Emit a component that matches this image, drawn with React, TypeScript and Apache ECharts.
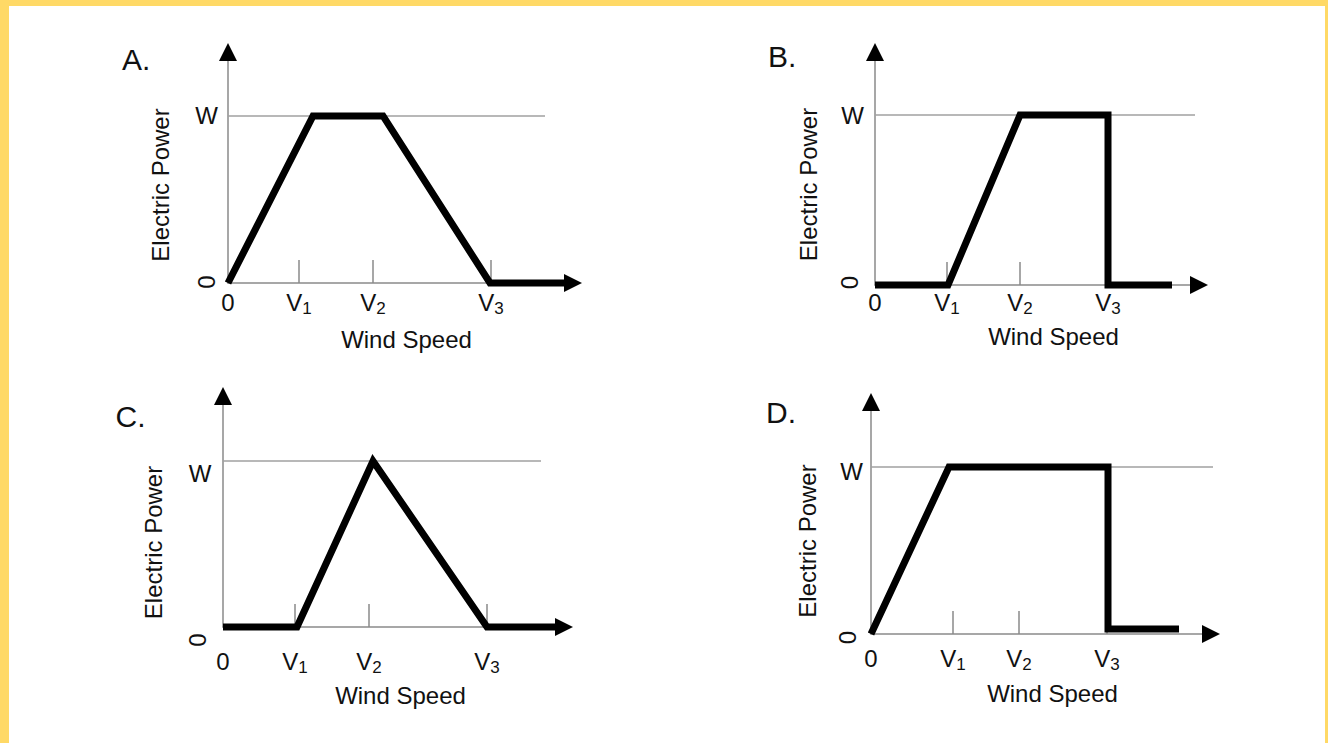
import React, { useEffect, useRef } from "react";
import * as echarts from "echarts";

// ---------- data ----------
const panelTitles = ["A.", "B.", "C.", "D."];
const xTickBase = ["0", "V", "V", "V"];
const xTickSub = ["", "1", "2", "3"];
const xAxisTitle = "Wind Speed";
const yAxisTitle = "Electric Power";
const ratedPowerLabel = "W";
const zeroPowerLabel = "0";
const ratedPower = 1;

// wind speed (arbitrary units) at V1, V2, V3 in each panel
const speedTicksA = [7.1, 14.5, 26.3];
const speedTicksB = [7.2, 14.5, 23.3];
const speedTicksC = [7.2, 14.6, 26.4];
const speedTicksD = [8.2, 14.8, 23.6];

// power curves (speed, power as fraction of W)
const curveSpeedA = [0, 8.5, 15.5, 26.2, 33.9];
const curvePowerA = [0, 1, 1, 0, 0];
const curveSpeedB = [0, 7.3, 14.5, 23.3, 23.3, 29.7];
const curvePowerB = [0, 0, 1, 1, 0, 0];
const curveSpeedC = [0, 7.4, 15.0, 26.4, 33.4];
const curvePowerC = [0, 0, 1, 0, 0];
const curveSpeedD = [0, 7.8, 23.7, 23.7, 30.8];
const curvePowerD = [0, 1, 1, 0.03, 0.03];

// end of the thin "W" reference line
const ratedLineEnd = [31.7, 32.0, 31.8, 34.4];
// axis extents
const speedMax = [34.5, 32.4, 34.1, 34.0];
const powerMax = [1.383, 1.371, 1.392, 1.389];

// ---------- layout / style ----------
const layouts = [
  { left: 228, top: 52, width: 345, height: 231, title: [122, 44], xLabelMargin: 7, xNameGap: 44, xNameShift: 6, yNameGap: 56, yNameShift: 17.5, wMargin: 10, wShift: 0, zeroMargin: 10, zeroShift: -1 },
  { left: 875, top: 52, width: 324, height: 233, title: [768, 41], xLabelMargin: 5, xNameGap: 39, xNameShift: 16.5, yNameGap: 55, yNameShift: 16, wMargin: 11, wShift: 0, zeroMargin: 14, zeroShift: -2.5 },
  { left: 223, top: 396, width: 341, height: 231, title: [115.5, 401], xLabelMargin: 22, xNameGap: 56, xNameShift: 7, yNameGap: 58, yNameShift: 31, wMargin: 11.5, wShift: 12.5, zeroMargin: 14, zeroShift: 13 },
  { left: 871, top: 402, width: 340, height: 232, title: [766, 397.5], xLabelMargin: 12, xNameGap: 47.5, xNameShift: 11.5, yNameGap: 52, yNameShift: 23, wMargin: 8, wShift: 4.5, zeroMargin: 12, zeroShift: 3.5 },
];

const FONT = "'Liberation Sans', Arial, Helvetica, sans-serif";
const TEXT = "#111111";
const AXIS_GRAY = "#8a8a8a";
const REF_GRAY = "#a0a0a0";

// shift along text direction (positive = along +x of the text frame)
function padAlong(d: number): number[] {
  return d >= 0 ? [0, 0, 0, 2 * d] : [0, -2 * d, 0, 0];
}

function buildOption() {
  const panels = [
    { ticks: speedTicksA, xs: curveSpeedA, ys: curvePowerA },
    { ticks: speedTicksB, xs: curveSpeedB, ys: curvePowerB },
    { ticks: speedTicksC, xs: curveSpeedC, ys: curvePowerC },
    { ticks: speedTicksD, xs: curveSpeedD, ys: curvePowerD },
  ];

  const grid: any[] = [];
  const xAxis: any[] = [];
  const yAxis: any[] = [];
  const series: any[] = [];
  const title: any[] = [];

  panels.forEach((p, i) => {
    const l = layouts[i];
    grid.push({
      left: l.left,
      top: l.top,
      width: l.width,
      height: l.height,
      containLabel: false,
      outerBoundsMode: "none",
    });
    title.push({
      text: panelTitles[i],
      left: l.title[0],
      top: l.title[1],
      padding: 0,
      textStyle: { fontSize: 30, fontWeight: "normal", color: TEXT, fontFamily: FONT },
    });

    const labelValues = [0, ...p.ticks];
    xAxis.push({
      type: "value",
      gridIndex: i,
      min: 0,
      max: speedMax[i],
      splitLine: { show: false },
      axisLine: { show: true, onZero: false, lineStyle: { color: AXIS_GRAY, width: 1.5 } },
      axisTick: {
        show: true,
        inside: true,
        length: 23,
        customValues: p.ticks,
        lineStyle: { color: AXIS_GRAY, width: 1.5 },
      },
      axisLabel: {
        show: true,
        customValues: labelValues,
        margin: l.xLabelMargin,
        formatter: (v: number) => {
          let k = 0;
          let best = Infinity;
          labelValues.forEach((lv, j) => {
            const d = Math.abs(lv - v);
            if (d < best) { best = d; k = j; }
          });
          return xTickSub[k] ? `{v|${xTickBase[k]}}{s|${xTickSub[k]}}` : `{v|${xTickBase[k]}}`;
        },
        rich: {
          v: { fontSize: 24, lineHeight: 24, color: TEXT, fontFamily: FONT },
          s: { fontSize: 17, lineHeight: 12, padding: [13, 0, 0, 0], color: TEXT, fontFamily: FONT },
        },
      },
      name: xAxisTitle,
      nameLocation: "middle",
      nameGap: l.xNameGap,
      nameTextStyle: { fontSize: 24, color: TEXT, fontFamily: FONT, padding: padAlong(l.xNameShift) },
    });

    const wLabelShift =
      l.wShift > 0
        ? { verticalAlign: "top", lineHeight: 2 * l.wShift }
        : { verticalAlign: "middle" };
    yAxis.push({
      type: "value",
      gridIndex: i,
      min: 0,
      max: powerMax[i],
      position: "left",
      offset: 0,
      splitLine: { show: false },
      axisTick: { show: false },
      axisLine: { show: true, onZero: false, lineStyle: { color: AXIS_GRAY, width: 1.5 } },
      axisLabel: {
        show: true,
        customValues: [ratedPower],
        formatter: () => ratedPowerLabel,
        margin: l.wMargin,
        fontSize: 24,
        color: TEXT,
        fontFamily: FONT,
        ...wLabelShift,
      },
      name: yAxisTitle,
      nameLocation: "middle",
      nameRotate: 90,
      nameGap: l.yNameGap,
      nameTextStyle: { fontSize: 24, color: TEXT, fontFamily: FONT, padding: padAlong(-l.yNameShift) },
    });
    yAxis.push({
      type: "value",
      gridIndex: i,
      min: 0,
      max: powerMax[i],
      position: "left",
      offset: 0,
      splitLine: { show: false },
      axisTick: { show: false },
      axisLine: { show: false },
      axisLabel: {
        show: true,
        customValues: [0],
        formatter: () => zeroPowerLabel,
        rotate: 90,
        margin: l.zeroMargin,
        fontSize: 24,
        color: TEXT,
        fontFamily: FONT,
        padding: padAlong(-l.zeroShift),
      },
    });

    series.push({
      type: "line",
      xAxisIndex: i,
      yAxisIndex: 2 * i,
      data: [[0, ratedPower], [ratedLineEnd[i], ratedPower]],
      symbol: "none",
      silent: true,
      clip: false,
      z: 1,
      lineStyle: { color: REF_GRAY, width: 1.5 },
    });
    series.push({
      type: "line",
      xAxisIndex: i,
      yAxisIndex: 2 * i,
      data: p.xs.map((x, j) => [x, p.ys[j]]),
      symbol: "none",
      silent: true,
      clip: false,
      z: 3,
      lineStyle: { color: "#000", width: 7, join: "miter", cap: "butt" },
    });
    series.push({
      type: "scatter",
      xAxisIndex: i,
      yAxisIndex: 2 * i,
      data: [
        { value: [speedMax[i], 0], symbolRotate: -90 },
        { value: [0, powerMax[i]], symbolRotate: 0 },
      ],
      symbol: "triangle",
      symbolSize: 18,
      silent: true,
      clip: false,
      z: 4,
      itemStyle: { color: "#000", opacity: 1 },
    });
  });

  return {
    animation: false,
    backgroundColor: "transparent",
    textStyle: { fontFamily: FONT },
    title,
    grid,
    xAxis,
    yAxis,
    series,
  };
}

export default function App() {
  const ref = useRef<HTMLDivElement>(null);
  useEffect(() => {
    if (!ref.current) return;
    const chart = echarts.init(ref.current, null, { renderer: "svg" });
    chart.setOption(buildOption() as any);
    return () => chart.dispose();
  }, []);
  return (
    <div style={{ position: "fixed", left: 0, top: 0, width: 1328, height: 743, background: "#FFD966", overflow: "hidden" }}>
      <div style={{ position: "absolute", left: 9, top: 6, width: 1316, height: 737, background: "#ffffff" }} />
      <div ref={ref} style={{ position: "absolute", left: 0, top: 0, width: 1328, height: 743 }} />
    </div>
  );
}
